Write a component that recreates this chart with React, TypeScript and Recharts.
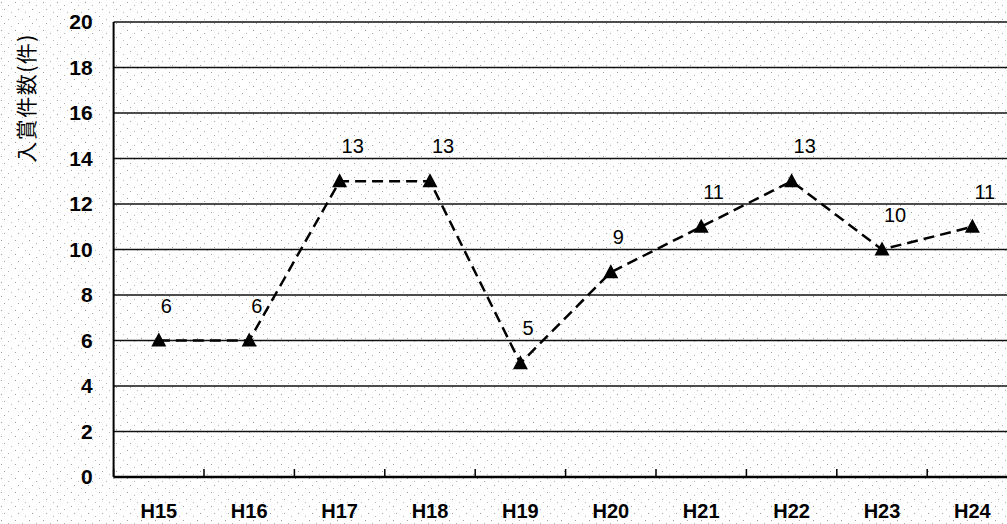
import { LineChart, Line, XAxis, YAxis, CartesianGrid } from "recharts";

const years = ["H15", "H16", "H17", "H18", "H19", "H20", "H21", "H22", "H23", "H24"];
const awards = [6, 6, 13, 13, 5, 9, 11, 13, 10, 11];
const yTicks = [0, 2, 4, 6, 8, 10, 12, 14, 16, 18, 20];

const data = years.map((name, i) => ({ name, awards: awards[i] }));

const W = 1030;
const H = 524;
const LEFT = 113.6;
const RIGHT_M = 12.4;
const BAND = (W - RIGHT_M - LEFT) / years.length;

const dots =
  "data:image/svg+xml;utf8," +
  encodeURIComponent(
    `<svg xmlns='http://www.w3.org/2000/svg' width='14' height='14'>` +
      `<rect x='1' y='2' width='1' height='1' fill='#9a9a9a'/>` +
      `<rect x='8' y='5' width='1' height='1' fill='#b0b0b0'/>` +
      `<rect x='4' y='9' width='1' height='1' fill='#a0a0a0'/>` +
      `<rect x='11' y='12' width='1' height='1' fill='#b8b8b8'/>` +
      `</svg>`
  );

const Triangle = (props: any) => {
  const { cx, cy } = props;
  if (cx == null || cy == null) return null;
  return (
    <path
      d={`M${cx},${cy - 8} L${cx + 7.5},${cy + 6} L${cx - 7.5},${cy + 6} Z`}
      fill="#000"
    />
  );
};

const XTick = (props: any) => {
  const { x, y, payload } = props;
  const bx = x - BAND / 2;
  return (
    <g>
      <line x1={bx} y1={y - 1} x2={bx} y2={y - 8} stroke="#000" strokeWidth={1.5} />
      <text
        x={x}
        y={y + 41}
        textAnchor="middle"
        fontSize={20}
        fontWeight="bold"
        fontFamily="Liberation Sans, Arial, sans-serif"
        fill="#000"
      >
        {payload.value}
      </text>
    </g>
  );
};

const ValueLabel = (props: any) => {
  const { x, y, value } = props;
  return (
    <text
      x={x + 2}
      y={y - 28}
      textAnchor="start"
      fontSize={20}
      fontFamily="Liberation Sans, Arial, sans-serif"
      fill="#000"
    >
      {value}
    </text>
  );
};

export default function App() {
  return (
    <div
      style={{
        position: "fixed",
        left: 0,
        top: 0,
        width: 1007,
        height: 524,
        overflow: "hidden",
        backgroundColor: "#fff",
        backgroundImage: `url("${dots}")`,
      }}
    >
      <LineChart
        width={W}
        height={H}
        data={data}
        margin={{ top: 22, right: RIGHT_M, left: 0, bottom: 0 }}
      >
        <CartesianGrid vertical={false} stroke="#111" strokeWidth={1.3} />
        <XAxis
          dataKey="name"
          height={47}
          padding={{ left: BAND / 2, right: BAND / 2 }}
          axisLine={{ stroke: "#000", strokeWidth: 2.5 }}
          tickLine={false}
          tickSize={0}
          tickMargin={0}
          tick={<XTick />}
          interval={0}
        />
        <YAxis
          width={LEFT}
          domain={[0, 20]}
          ticks={yTicks}
          interval={0}
          axisLine={{ stroke: "#000", strokeWidth: 2 }}
          tickLine={false}
          tickSize={0}
          tickMargin={21}
          tick={{
            fontSize: 21,
            fontWeight: "bold",
            fontFamily: "Liberation Sans, Arial, sans-serif",
            fill: "#000",
          }}
        />
        <Line
          dataKey="awards"
          stroke="#000"
          strokeWidth={2.5}
          strokeDasharray="11 6"
          dot={<Triangle />}
          activeDot={false}
          label={<ValueLabel />}
          isAnimationActive={false}
        />
        <text
          x={25}
          y={98}
          transform="rotate(-90 25 98)"
          textAnchor="middle"
          dominantBaseline="central"
          fontSize={21}
          letterSpacing={1.5}
          fontFamily="Noto Sans CJK JP, sans-serif"
          fill="#000"
        >
          入賞件数(件)
        </text>
      </LineChart>
    </div>
  );
}
